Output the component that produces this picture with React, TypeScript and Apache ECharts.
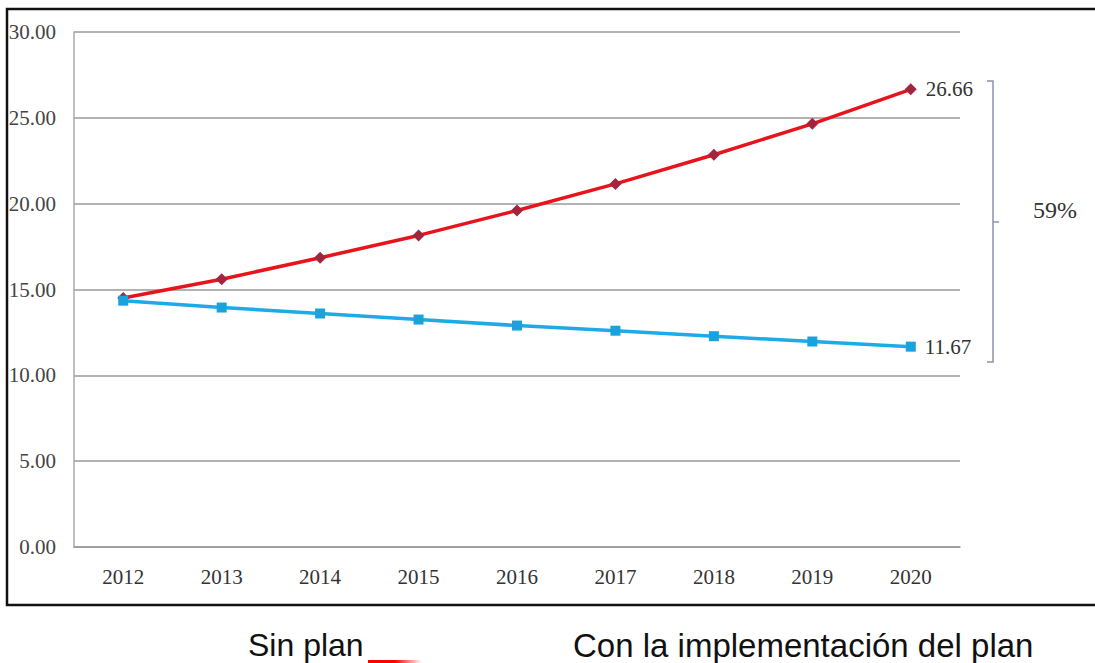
import React, { useEffect, useRef } from "react";
import * as echarts from "echarts";

const years = ["2012", "2013", "2014", "2015", "2016", "2017", "2018", "2019", "2020"];
const sinPlan = [14.5, 15.6, 16.85, 18.15, 19.6, 21.15, 22.85, 24.65, 26.66];
const conPlan = [14.35, 13.95, 13.6, 13.25, 12.9, 12.6, 12.28, 11.97, 11.67];
const legendSin = "Sin plan";
const legendCon = "Con la implementación del plan";
const diffLabel = "59%";

const serif = "'Liberation Serif', 'DejaVu Serif', serif";
const sans = "'Liberation Sans', Arial, sans-serif";

function withEndLabel(arr: number[]) {
  return arr.map((v, i) =>
    i === arr.length - 1
      ? {
          value: v,
          label: {
            show: true,
            position: "right",
            distance: 9,
            formatter: (p: any) => Number(p.value).toFixed(2),
            fontFamily: serif,
            fontSize: 21,
            color: "#333",
          },
        }
      : v
  );
}

export default function App() {
  const ref = useRef<HTMLDivElement>(null);
  useEffect(() => {
    if (!ref.current) return;
    const chart = echarts.init(ref.current, null, { renderer: "svg" });
    chart.setOption({
      animation: false,
      backgroundColor: "#ffffff",
      grid: { left: 74, right: 135, top: 32, bottom: 116, containLabel: false },
      xAxis: {
        type: "category",
        data: years,
        boundaryGap: true,
        axisLine: { show: true, lineStyle: { color: "#9a9a9a", width: 1.5 } },
        axisTick: { show: false },
        axisLabel: { fontFamily: serif, fontSize: 21, color: "#333", margin: 19 },
      },
      yAxis: {
        type: "value",
        min: 0,
        max: 30,
        interval: 5,
        axisLine: { show: true, lineStyle: { color: "#aaaaaa", width: 1.5 } },
        axisTick: { show: false },
        splitLine: { show: true, lineStyle: { color: "#9a9a9a", width: 1.5 } },
        axisLabel: {
          formatter: (v: number) => v.toFixed(2),
          align: "right",
          margin: 18,
          padding: [0, 0, 4, 0],
          fontFamily: serif,
          fontSize: 21,
          color: "#444",
        },
      },
      series: [
        {
          name: legendSin,
          type: "line",
          data: withEndLabel(sinPlan),
          symbol: "diamond",
          symbolSize: 12,
          lineStyle: { color: "#e8141c", width: 3.5 },
          itemStyle: { color: "#a3243f" },
          z: 2,
        },
        {
          name: legendCon,
          type: "line",
          data: withEndLabel(conPlan),
          symbol: "rect",
          symbolSize: 10,
          lineStyle: { color: "#1cabe6", width: 3.5 },
          itemStyle: { color: "#1aa2dc" },
          z: 3,
        },
      ],
      graphic: [
        {
          type: "rect",
          shape: { x: 7, y: 9, width: 1100, height: 596 },
          style: { fill: "none", stroke: "#111", lineWidth: 2.5 },
          silent: true,
        },
        {
          type: "polyline",
          shape: { points: [[987, 81], [993, 81], [993, 362], [987, 362]] },
          style: { fill: "none", stroke: "#8a92a6", lineWidth: 1.5 },
        },
        {
          type: "line",
          shape: { x1: 993, y1: 222, x2: 999, y2: 222 },
          style: { stroke: "#8a92a6", lineWidth: 1.5 },
        },
        {
          type: "text",
          x: 1033,
          y: 210,
          style: {
            text: diffLabel,
            fontFamily: serif,
            fontSize: 24,
            fill: "#333",
            textVerticalAlign: "middle",
          },
        },
        {
          type: "text",
          x: 248,
          y: 645,
          style: {
            text: legendSin,
            fontFamily: sans,
            fontSize: 32,
            fill: "#111",
            textVerticalAlign: "middle",
          },
        },
        {
          type: "rect",
          shape: { x: 368, y: 660, width: 54, height: 3 },
          style: {
            fill: new echarts.graphic.LinearGradient(0, 0, 1, 0, [
              { offset: 0, color: "#ff0000" },
              { offset: 0.5, color: "#ff0000" },
              { offset: 1, color: "rgba(255,0,0,0)" },
            ]),
          },
        },
        {
          type: "text",
          x: 573,
          y: 645,
          style: {
            text: legendCon,
            fontFamily: sans,
            fontSize: 33,
            fill: "#111",
            textVerticalAlign: "middle",
          },
        },
      ],
    });
    return () => chart.dispose();
  }, []);
  return (
    <div
      ref={ref}
      style={{ position: "absolute", left: 0, top: 0, width: 1095, height: 663 }}
    />
  );
}
